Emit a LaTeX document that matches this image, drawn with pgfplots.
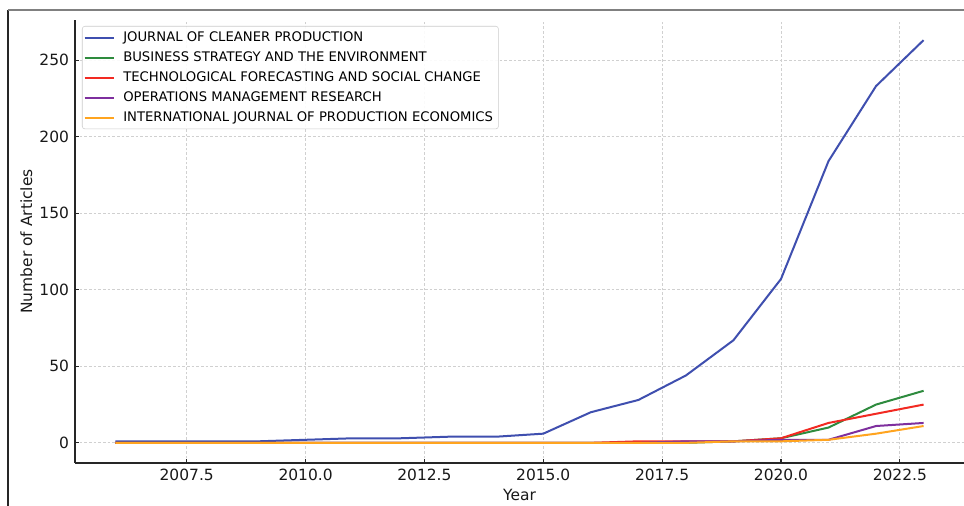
\documentclass[border=0pt]{standalone}
\usepackage{fontspec}
\setmainfont{DejaVu Sans}
\usepackage{pgfplots}
\pgfplotsset{compat=1.18}
\definecolor{cblue}{HTML}{3F4FAF}
\definecolor{cgreen}{HTML}{2E8B3E}
\definecolor{cred}{HTML}{F22A22}
\definecolor{cpurple}{HTML}{7E2F9E}
\definecolor{corange}{HTML}{FFA41F}
\definecolor{cgrid}{HTML}{D0D0D0}
\begin{document}
\begin{tikzpicture}
\useasboundingbox (0,0) rectangle (723pt,379.5pt);
\fill[white] (0,0) rectangle (723pt,379.5pt);
\draw[black!85, line width=1.3pt] (6pt,0) -- (6pt,372pt);
\draw[black!50, line width=1.3pt] (6pt,372pt) -- (723pt,372pt);
\begin{axis}[
  at={(56.25pt,32.25pt)}, anchor=south west,
  scale only axis, width=666.75pt, height=332.25pt,
  xmin=2005.15, xmax=2023.85, ymin=-13.15, ymax=276.15,
  axis x line=bottom, axis y line=left,
  axis line style={-, black!85, line width=0.9pt},
  xtick={2007.5,2010,2012.5,2015,2017.5,2020,2022.5},
  ytick={0,50,100,150,200,250},
  tick align=inside,
  major tick length=3pt,
  tick style={black!85, line width=0.8pt},
  grid=major,
  grid style={cgrid, dashed, dash pattern=on 2pt off 1.5pt, line width=0.6pt},
  /pgf/number format/assume math mode=true,
  ticklabel style={font=\fontsize{11.6}{13}\selectfont, text=black!90},
  yticklabel style={xshift=-1pt},
  xticklabel style={yshift=-1pt, /pgf/number format/.cd, fixed, fixed zerofill, precision=1, 1000 sep={}},
  xlabel={Year}, ylabel={Number of Articles},
  label style={font=\fontsize{11.6}{13}\selectfont, text=black!90},
  xlabel style={at={(axis description cs:0.5,-0.0722)}, anchor=center},
  ylabel style={at={(axis description cs:-0.0546,0.5)}, anchor=center},
  legend cell align=left,
  legend style={at={(axis description cs:0.00787,0.98646)}, anchor=north west,
    draw=black!20, rounded corners=2pt, fill=white, fill opacity=0.9, text opacity=1,
    font=\fontsize{9.9}{11}\selectfont, inner sep=1pt, row sep=0pt, column sep=3.5pt,
    nodes={text height=7.4pt, text depth=1.6pt, inner ysep=3pt, inner xsep=3pt}},
  legend image code/.code={\draw[#1] (0pt,0pt) -- (21.75pt,0pt);},
  every axis plot/.append style={line width=1.5pt, line join=round},
]
\addplot[cblue] coordinates {(2006,1)(2007,1)(2008,1)(2009,1)(2010,2)(2011,3)(2012,3)(2013,4)(2014,4)(2015,6)(2016,20)(2017,28)(2018,44)(2019,67)(2020,107)(2021,184)(2022,233)(2023,263)};
\addlegendentry{JOURNAL OF CLEANER PRODUCTION}
\addplot[cgreen] coordinates {(2006,0)(2007,0)(2008,0)(2009,0)(2010,0)(2011,0)(2012,0)(2013,0)(2014,0)(2015,0)(2016,0)(2017,0)(2018,0)(2019,1)(2020,3)(2021,10)(2022,25)(2023,34)};
\addlegendentry{BUSINESS STRATEGY AND THE ENVIRONMENT}
\addplot[cred] coordinates {(2006,0)(2007,0)(2008,0)(2009,0)(2010,0)(2011,0)(2012,0)(2013,0)(2014,0)(2015,0)(2016,0)(2017,1)(2018,1)(2019,1)(2020,3)(2021,13)(2022,19)(2023,25)};
\addlegendentry{TECHNOLOGICAL FORECASTING AND SOCIAL CHANGE}
\addplot[cpurple] coordinates {(2006,0)(2007,0)(2008,0)(2009,0)(2010,0)(2011,0)(2012,0)(2013,0)(2014,0)(2015,0)(2016,0)(2017,0)(2018,1)(2019,1)(2020,2)(2021,2)(2022,11)(2023,13)};
\addlegendentry{OPERATIONS MANAGEMENT RESEARCH}
\addplot[corange] coordinates {(2006,0)(2007,0)(2008,0)(2009,0)(2010,0)(2011,0)(2012,0)(2013,0)(2014,0)(2015,0)(2016,0)(2017,0)(2018,0)(2019,1)(2020,1)(2021,2)(2022,6)(2023,11)};
\addlegendentry{INTERNATIONAL JOURNAL OF PRODUCTION ECONOMICS}
\end{axis}
\end{tikzpicture}
\end{document}
